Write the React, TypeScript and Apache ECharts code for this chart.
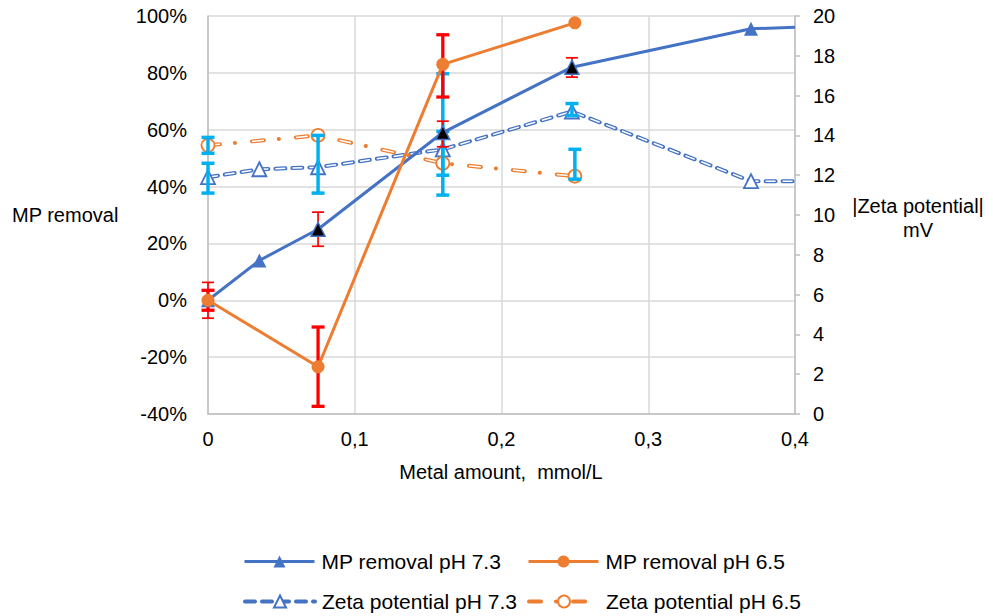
import React, { useEffect, useRef } from "react";
import * as echarts from "echarts";

// ---- data ----
const mp73X = [0, 0.035, 0.075, 0.16, 0.248, 0.37, 0.4];
const mp73Y = [0, 14, 25, 59, 82, 95.5, 96];
const mp65X = [0, 0.075, 0.16, 0.25];
const mp65Y = [0, -23.4, 83, 97.6];
const zeta73X = [0, 0.035, 0.075, 0.16, 0.248, 0.37, 0.4];
const zeta73Y = [11.9, 12.3, 12.4, 13.3, 15.2, 11.7, 11.7];
const zeta65X = [0, 0.075, 0.16, 0.25];
const zeta65Y = [13.5, 14.0, 12.6, 11.95];

// error bars: [x, low, high]
const mp73Err = [[0, -6.3, 6.3], [0.075, 19, 31], [0.16, 54, 63], [0.248, 78.5, 85.3]];
const mp65Err = [[0, -3.5, 3.5], [0.075, -37.3, -9.4], [0.16, 71.5, 93.4]];
const zeta73Err = [[0, 11.1, 12.6], [0.075, 11.1, 14.0], [0.16, 12.0, 17.1], [0.248, 15.0, 15.6]];
const zeta65Err = [[0, 13.1, 13.9], [0.16, 11.0, 14.2], [0.25, 11.8, 13.3]];

const leftTicks = { min: -40, max: 100, interval: 20 };
const rightTicks = { min: 0, max: 20, interval: 2 };
const xTicks = { min: 0, max: 0.4, interval: 0.1 };

const N_MP73 = "MP removal pH 7.3";
const N_MP65 = "MP removal pH 6.5";
const N_Z73 = "Zeta potential pH 7.3";
const N_Z65 = "Zeta potential pH 6.5";

const BLUE = "#4472C4";
const ORANGE = "#ED7D31";
const RED = "#FF0000";
const CYAN = "#00B0F0";
const FONT = "'Liberation Sans', Arial, sans-serif";

function pairs(xs: number[], ys: number[]) {
  return xs.map((x, i) => [x, ys[i]]);
}

function errRender(color: string, width: number, cap: number) {
  return (params: any, api: any) => {
    const x = api.value(0);
    const lo = api.value(1);
    const hi = api.value(2);
    const a = api.coord([x, hi]);
    const b = api.coord([x, lo]);
    const style = { stroke: color, lineWidth: width };
    return {
      type: "group",
      children: [
        { type: "line", shape: { x1: a[0], y1: a[1], x2: b[0], y2: b[1] }, style },
        { type: "line", shape: { x1: a[0] - cap / 2, y1: a[1], x2: a[0] + cap / 2, y2: a[1] }, style },
        { type: "line", shape: { x1: b[0] - cap / 2, y1: b[1], x2: b[0] + cap / 2, y2: b[1] }, style },
      ],
    };
  };
}

const blackMarkerIdx = [2, 3, 4];

export default function App() {
  const ref = useRef<HTMLDivElement>(null);
  useEffect(() => {
    if (!ref.current) return;
    const chart = echarts.init(ref.current, null, { renderer: "svg" });

    const mp73Data = pairs(mp73X, mp73Y).map((p, i) => {
      if (i === mp73X.length - 1) return { value: p, symbol: "none" };
      if (blackMarkerIdx.includes(i))
        return { value: p, itemStyle: { color: "#000", borderColor: BLUE, borderWidth: 1.5 } };
      return { value: p };
    });
    const z73Data = pairs(zeta73X, zeta73Y).map((p, i) =>
      i === zeta73X.length - 1 ? { value: p, symbol: "none" } : { value: p }
    );

    const legendCommon = {
      orient: "horizontal",
      padding: 0,
      itemGap: 0,
      itemWidth: 70,
      itemHeight: 15,
      selectedMode: false,
      lineStyle: { width: "inherit" },
      textStyle: { fontSize: 21, color: "#000", fontFamily: FONT, padding: [0, 0, 0, 2] },
    };

    const option: any = {
      animation: false,
      backgroundColor: "#fff",
      textStyle: { fontFamily: FONT },
      grid: { left: 208, right: 198, top: 16, bottom: 202, containLabel: false },
      legend: [
        { ...legendCommon, data: [N_MP73], left: 243, top: 551 },
        { ...legendCommon, data: [N_MP65], left: 527, top: 551 },
        { ...legendCommon, data: [N_Z73], left: 243, top: 591 },
        { ...legendCommon, data: [N_Z65], left: 527, top: 591 },
      ],
      xAxis: {
        type: "value",
        ...xTicks,
        axisLine: { show: true, onZero: false, lineStyle: { color: "#BFBFBF", width: 1.5 } },
        axisTick: { show: false },
        splitLine: { show: true, lineStyle: { color: "#D9D9D9", width: 1.5 } },
        axisLabel: {
          fontSize: 20,
          color: "#000",
          fontFamily: FONT,
          margin: 15,
          formatter: (v: number) => (v === 0 ? "0" : v.toFixed(1).replace(".", ",")),
        },
      },
      yAxis: [
        {
          type: "value",
          ...leftTicks,
          position: "left",
          axisLine: { show: true, lineStyle: { color: "#BFBFBF", width: 1.5 } },
          axisTick: { show: false },
          splitLine: { show: true, lineStyle: { color: "#D9D9D9", width: 1.5 } },
          axisLabel: { fontSize: 20, color: "#000", fontFamily: FONT, margin: 21, formatter: "{value}%" },
        },
        {
          type: "value",
          ...rightTicks,
          position: "right",
          axisLine: { show: true, lineStyle: { color: "#BFBFBF", width: 1.5 } },
          axisTick: { show: true, length: 5, lineStyle: { color: "#BFBFBF", width: 1.5 } },
          splitLine: { show: false },
          axisLabel: { fontSize: 20, color: "#000", fontFamily: FONT, margin: 18 },
        },
      ],
      graphic: [
        {
          type: "text",
          left: 12,
          top: 205,
          style: { text: "MP removal", fontSize: 20, fill: "#000", fontFamily: FONT },
        },
        {
          type: "text",
          x: 918,
          y: 218,
          style: {
            text: "|Zeta potential|\nmV",
            fontSize: 20,
            lineHeight: 24,
            fill: "#000",
            fontFamily: FONT,
            align: "center",
            verticalAlign: "middle",
          },
        },
        {
          type: "text",
          x: 501,
          y: 472,
          style: {
            text: "Metal amount,  mmol/L",
            fontSize: 20,
            fill: "#000",
            fontFamily: FONT,
            align: "center",
            verticalAlign: "middle",
          },
        },
      ],
      series: [
        {
          name: N_Z73,
          type: "line",
          yAxisIndex: 1,
          z: 3,
          data: z73Data,
          symbol: "triangle",
          symbolSize: 14,
          showSymbol: true,
          itemStyle: { color: "#fff", borderColor: BLUE, borderWidth: 1.8 },
          lineStyle: { color: BLUE, width: 4, type: [10, 7], cap: "round" },
        },
        {
          name: "_z73w",
          type: "line",
          yAxisIndex: 1,
          z: 3,
          data: pairs(zeta73X, zeta73Y),
          symbol: "none",
          silent: true,
          lineStyle: { color: "#fff", width: 1.5, type: [10, 7], cap: "butt" },
        },
        {
          name: N_Z65,
          type: "line",
          yAxisIndex: 1,
          z: 3,
          data: pairs(zeta65X, zeta65Y),
          symbol: "circle",
          symbolSize: 13,
          itemStyle: { color: "#fff", borderColor: ORANGE, borderWidth: 1.8 },
          lineStyle: { color: ORANGE, width: 4, type: [12, 15, 0.1, 17], cap: "round" },
        },
        {
          name: "_z65w",
          type: "line",
          yAxisIndex: 1,
          z: 3,
          data: pairs(zeta65X, zeta65Y),
          symbol: "none",
          silent: true,
          lineStyle: { color: "#fff", width: 1.5, type: [12, 32.1], cap: "butt" },
        },
        {
          name: "_e_z73",
          type: "custom",
          yAxisIndex: 1,
          z: 4,
          data: zeta73Err,
          encode: { x: 0, y: [1, 2] },
          renderItem: errRender(CYAN, 3.5, 13),
        },
        {
          name: "_e_z65",
          type: "custom",
          yAxisIndex: 1,
          z: 4,
          data: zeta65Err,
          encode: { x: 0, y: [1, 2] },
          renderItem: errRender(CYAN, 3.5, 13),
        },
        {
          name: "_e_mp65",
          type: "custom",
          yAxisIndex: 0,
          z: 5,
          data: mp65Err,
          encode: { x: 0, y: [1, 2] },
          renderItem: errRender(RED, 3.3, 13),
        },
        {
          name: "_e_mp73",
          type: "custom",
          yAxisIndex: 0,
          z: 5,
          data: mp73Err,
          encode: { x: 0, y: [1, 2] },
          renderItem: errRender(RED, 1.7, 12),
        },
        {
          name: N_MP73,
          type: "line",
          yAxisIndex: 0,
          z: 6,
          data: mp73Data,
          symbol: "triangle",
          symbolSize: 14,
          itemStyle: { color: BLUE },
          lineStyle: { color: BLUE, width: 3 },
        },
        {
          name: N_MP65,
          type: "line",
          yAxisIndex: 0,
          z: 7,
          data: pairs(mp65X, mp65Y),
          symbol: "circle",
          symbolSize: 13,
          itemStyle: { color: ORANGE },
          lineStyle: { color: ORANGE, width: 3 },
        },
      ],
    };

    chart.setOption(option);
    return () => chart.dispose();
  }, []);

  return (
    <div
      ref={ref}
      style={{ position: "fixed", left: 0, top: 0, width: 993, height: 616, background: "#fff" }}
    />
  );
}
